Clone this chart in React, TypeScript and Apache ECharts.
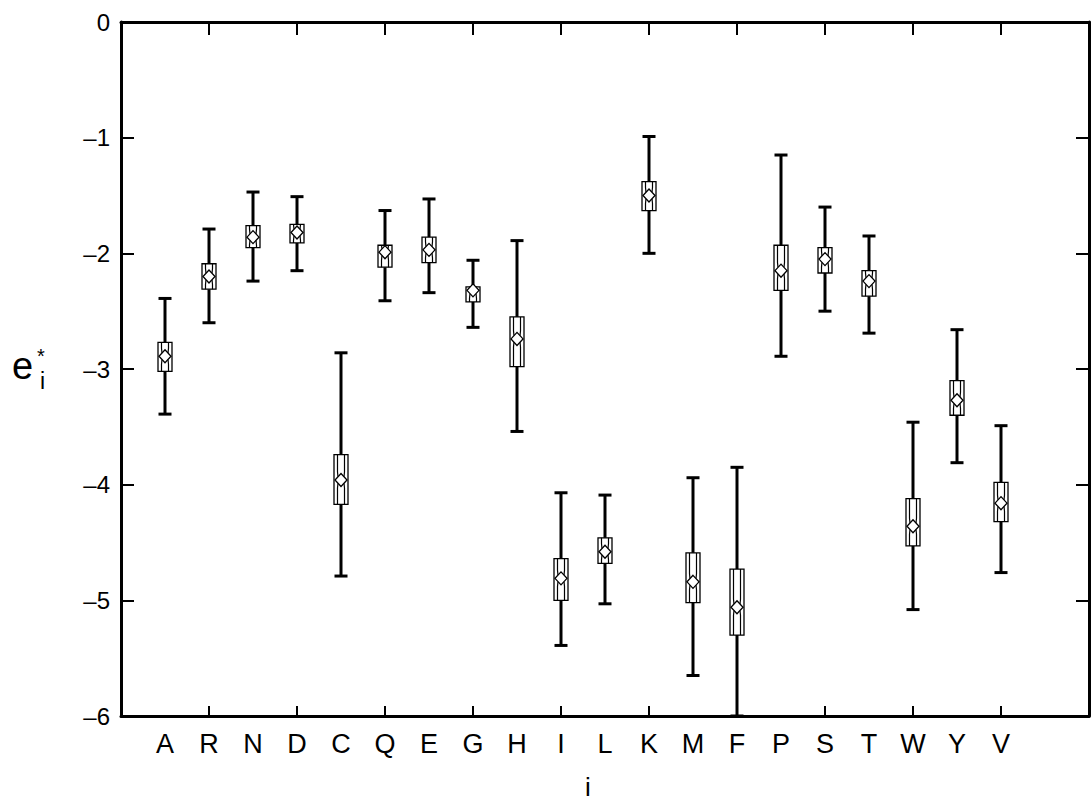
import React, { useEffect, useRef } from "react";
import * as echarts from "echarts";

const categories = ["A", "R", "N", "D", "C", "Q", "E", "G", "H", "I", "L", "K", "M", "F", "P", "S", "T", "W", "Y", "V"];
const whiskerTop = [-2.39, -1.79, -1.47, -1.51, -2.86, -1.63, -1.53, -2.06, -1.89, -4.07, -4.09, -0.99, -3.94, -3.85, -1.15, -1.60, -1.85, -3.46, -2.66, -3.49];
const boxTop = [-2.77, -2.09, -1.76, -1.75, -3.74, -1.93, -1.86, -2.29, -2.55, -4.64, -4.46, -1.38, -4.59, -4.73, -1.93, -1.95, -2.15, -4.12, -3.10, -3.98];
const centers = [-2.89, -2.20, -1.86, -1.82, -3.96, -1.99, -1.97, -2.32, -2.74, -4.81, -4.58, -1.50, -4.84, -5.06, -2.15, -2.05, -2.24, -4.36, -3.27, -4.16];
const boxBottom = [-3.02, -2.31, -1.95, -1.91, -4.17, -2.12, -2.08, -2.42, -2.98, -5.00, -4.68, -1.63, -5.02, -5.30, -2.32, -2.17, -2.37, -4.53, -3.40, -4.32];
const whiskerBottom = [-3.39, -2.60, -2.24, -2.15, -4.79, -2.41, -2.34, -2.64, -3.54, -5.39, -5.03, -2.00, -5.65, -6.00, -2.89, -2.50, -2.69, -5.08, -3.81, -4.76];
const yTicks = [-6, -5, -4, -3, -2, -1, 0];

const axisCats = ["", ...categories, "", ""];

export default function App() {
  const ref = useRef<HTMLDivElement>(null);
  useEffect(() => {
    if (!ref.current) return;
    const chart = echarts.init(ref.current, null, { renderer: "svg" });
    const data = categories.map((c, i) => [i + 1, whiskerTop[i], boxTop[i], centers[i], boxBottom[i], whiskerBottom[i]]);
    const font = "'Liberation Sans', Arial, Helvetica, sans-serif";
    const narrow = "'Liberation Sans Narrow', 'Liberation Sans', Arial, sans-serif";
    const tickInterval = (idx: number) => idx % 2 === 0 && idx > 0 && idx < 22;
    const option: any = {
      animation: false,
      backgroundColor: "#ffffff",
      grid: { left: 121, top: 22, width: 976, height: 694, containLabel: false },
      xAxis: [
        {
          type: "category",
          data: axisCats,
          boundaryGap: false,
          position: "bottom",
          axisLine: { show: true, onZero: false, lineStyle: { color: "#000", width: 3 } },
          axisTick: { show: true, inside: true, length: 10, interval: tickInterval, lineStyle: { color: "#000", width: 2 } },
          axisLabel: { interval: 0, color: "#000", fontSize: 27, fontFamily: narrow, margin: 14 },
          splitLine: { show: false },
        },
        {
          type: "category",
          data: axisCats,
          boundaryGap: false,
          position: "top",
          axisLine: { show: true, onZero: false, lineStyle: { color: "#000", width: 3 } },
          axisTick: { show: true, inside: true, length: 13, interval: tickInterval, lineStyle: { color: "#000", width: 2 } },
          axisLabel: { show: false },
          splitLine: { show: false },
        },
      ],
      yAxis: [
        {
          type: "value",
          min: yTicks[0],
          max: yTicks[yTicks.length - 1],
          interval: 1,
          position: "left",
          axisLine: { show: true, onZero: false, lineStyle: { color: "#000", width: 3 } },
          axisTick: { show: true, inside: true, length: 13, lineStyle: { color: "#000", width: 2 } },
          axisLabel: {
            color: "#000",
            fontSize: 24,
            fontFamily: font,
            margin: 11,
            formatter: (v: number) => (v === 0 ? "0" : "\u2013" + Math.abs(v)),
          },
          splitLine: { show: false },
        },
        {
          type: "value",
          min: yTicks[0],
          max: yTicks[yTicks.length - 1],
          interval: 1,
          position: "right",
          axisLine: { show: true, onZero: false, lineStyle: { color: "#000", width: 3 } },
          axisTick: { show: true, inside: true, length: 13, lineStyle: { color: "#000", width: 2 } },
          axisLabel: { show: false },
          splitLine: { show: false },
        },
      ],
      series: [
        {
          type: "custom",
          xAxisIndex: 0,
          yAxisIndex: 0,
          clip: false,
          encode: { x: 0, y: [1, 5] },
          data,
          renderItem: (params: any, api: any) => {
            const xi = api.value(0);
            const pHi = api.coord([xi, api.value(1)]);
            const pBt = api.coord([xi, api.value(2)]);
            const pC = api.coord([xi, api.value(3)]);
            const pBb = api.coord([xi, api.value(4)]);
            const pLo = api.coord([xi, api.value(5)]);
            const cx = pC[0];
            const yc = pC[1];
            const stroke = { stroke: "#000", lineWidth: 3, fill: "none" };
            const thin = { stroke: "#000", lineWidth: 1.2, fill: "none" };
            const hw = 7;
            const capW = 6.5;
            const dW = 6;
            const dH = 6.5;
            const children: any[] = [
              { type: "line", shape: { x1: cx, y1: pHi[1], x2: cx, y2: pBt[1] }, style: stroke },
              { type: "line", shape: { x1: cx, y1: pBb[1], x2: cx, y2: pLo[1] }, style: stroke },
              { type: "line", shape: { x1: cx - capW, y1: pHi[1], x2: cx + capW, y2: pHi[1] }, style: stroke },
              { type: "line", shape: { x1: cx - capW, y1: pLo[1], x2: cx + capW, y2: pLo[1] }, style: stroke },
              {
                type: "rect",
                shape: { x: cx - hw, y: pBt[1], width: 2 * hw, height: pBb[1] - pBt[1] },
                style: { fill: "#fff", stroke: "#000", lineWidth: 1.3 },
              },
              {
                type: "polyline",
                shape: { points: [[cx - 3.5, pBt[1]], [cx - 3.5, Math.max(pBt[1], yc - 8)], [cx - 3, yc - 3.25]] },
                style: thin,
              },
              {
                type: "polyline",
                shape: { points: [[cx + 3.5, pBt[1]], [cx + 3.5, Math.max(pBt[1], yc - 8)], [cx + 3, yc - 3.25]] },
                style: thin,
              },
              {
                type: "polyline",
                shape: { points: [[cx - 3.5, pBb[1]], [cx - 3.5, Math.min(pBb[1], yc + 8)], [cx - 3, yc + 3.25]] },
                style: thin,
              },
              {
                type: "polyline",
                shape: { points: [[cx + 3.5, pBb[1]], [cx + 3.5, Math.min(pBb[1], yc + 8)], [cx + 3, yc + 3.25]] },
                style: thin,
              },
              {
                type: "polygon",
                shape: { points: [[cx, yc - dH], [cx + dW, yc], [cx, yc + dH], [cx - dW, yc]] },
                style: { fill: "#fff", stroke: "#000", lineWidth: 1.3 },
              },
            ];
            return { type: "group", children };
          },
        },
      ],
      graphic: [
        { type: "text", left: 12, top: 347, style: { text: "e", font: `38px ${font}`, fill: "#000" } },
        { type: "text", left: 37, top: 346, style: { text: "*", font: `20px ${font}`, fill: "#000" } },
        { type: "text", left: 40, top: 369, style: { text: "i", font: `23px ${font}`, fill: "#000" } },
        { type: "text", left: 585, top: 774, style: { text: "i", font: `26px ${font}`, fill: "#000" } },
      ],
    };
    chart.setOption(option);
    return () => chart.dispose();
  }, []);
  return <div ref={ref} style={{ position: "fixed", left: 0, top: 0, width: 1092, height: 804 }} />;
}
